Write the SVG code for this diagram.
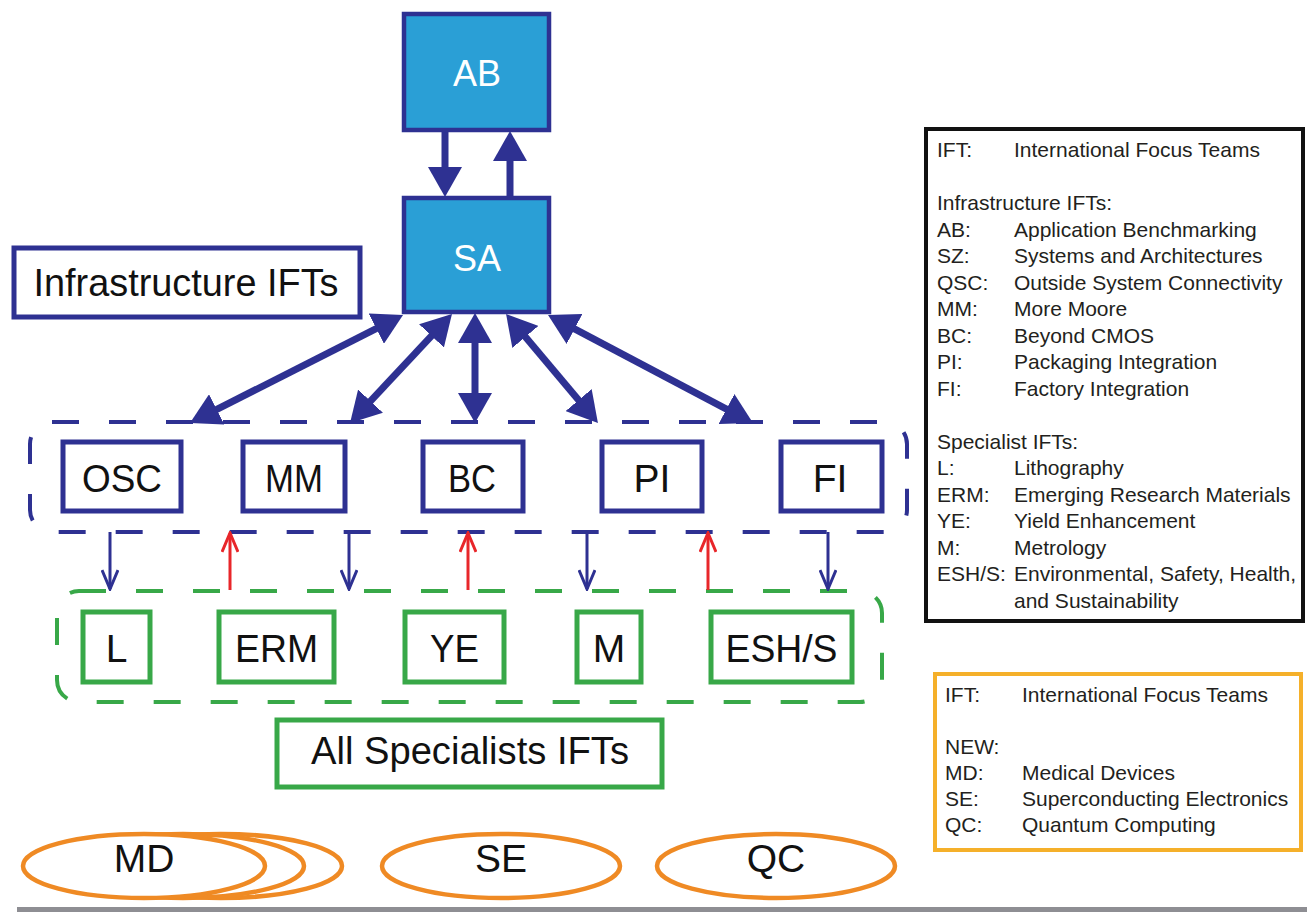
<svg xmlns="http://www.w3.org/2000/svg" width="1307" height="912" viewBox="0 0 1307 912">
<style>
text{font-family:"Liberation Sans",Arial,Helvetica,sans-serif;}
.lbl{font-size:39px;fill:#111;text-anchor:middle;}
.wlbl{font-size:36px;fill:#fff;text-anchor:middle;}
.blue{fill:#fff;stroke:#2e3192;stroke-width:5;}
.green{fill:#fff;stroke:#38a848;stroke-width:5;}
.top{fill:#2a9fd6;stroke:#2e3192;stroke-width:4.5;}
.ell{fill:#fff;stroke:#ef8a24;stroke-width:4.5;}
.thick{stroke:#2e3192;stroke-width:7;fill:none;marker-end:url(#bigHead);}
.dbl{stroke:#2e3192;stroke-width:7;fill:none;marker-start:url(#bigHead);marker-end:url(#bigHead);}
.thinB{stroke:#2e3192;stroke-width:3;fill:none;marker-end:url(#vBlue);}
.thinR{stroke:#e8262a;stroke-width:3;fill:none;marker-end:url(#vRed);}
.leg{font-size:21px;fill:#231f20;}
</style>
<defs>
<marker id="bigHead" markerUnits="userSpaceOnUse" viewBox="0 0 30 34" markerWidth="30" markerHeight="34" refX="22" refY="17" orient="auto-start-reverse">
<path d="M0,0 L30,17 L0,34 z" fill="#2e3192"/>
</marker>
<marker id="vBlue" markerUnits="userSpaceOnUse" viewBox="0 0 22 18" markerWidth="22" markerHeight="18" refX="20" refY="9" orient="auto">
<path d="M1,1 L20,9 L1,17" fill="none" stroke="#2e3192" stroke-width="3"/>
</marker>
<marker id="vRed" markerUnits="userSpaceOnUse" viewBox="0 0 22 18" markerWidth="22" markerHeight="18" refX="20" refY="9" orient="auto">
<path d="M1,1 L20,9 L1,17" fill="none" stroke="#e8262a" stroke-width="3"/>
</marker>
</defs>
<rect width="1307" height="912" fill="#fff"/>

<g id="infra-container">
<rect x="30" y="422" width="877" height="110" rx="22" fill="none" stroke="#2e3192" stroke-width="4" stroke-dasharray="27 30"/>
</g>
<g id="specialist-container">
<rect x="57" y="591" width="825" height="111" rx="22" fill="none" stroke="#38a848" stroke-width="4" stroke-dasharray="27 30"/>
</g>

<g id="connectors">
<line class="thick" x1="445" y1="131" x2="445" y2="189"/>
<line class="thick" x1="510" y1="198" x2="510" y2="139"/>
<line class="dbl" x1="395.9" y1="318.6" x2="197.1" y2="419.4"/>
<line class="dbl" x1="446.5" y1="319.8" x2="355.5" y2="417.2"/>
<line class="dbl" x1="475" y1="321" x2="475" y2="415"/>
<line class="dbl" x1="511.2" y1="320.1" x2="592.8" y2="416.9"/>
<line class="dbl" x1="555.1" y1="318.7" x2="745.9" y2="419.3"/>
<line class="thinB" x1="110" y1="532" x2="110" y2="589"/>
<line class="thinB" x1="349" y1="532" x2="349" y2="589"/>
<line class="thinB" x1="587" y1="532" x2="587" y2="589"/>
<line class="thinB" x1="828" y1="532" x2="828" y2="589"/>
<line class="thinR" x1="230" y1="590" x2="230" y2="533"/>
<line class="thinR" x1="468" y1="590" x2="468" y2="533"/>
<line class="thinR" x1="708" y1="590" x2="708" y2="533"/>
</g>

<g id="node-AB"><rect class="top" x="404" y="14" width="145" height="116"/><text class="wlbl" x="477" y="86">AB</text></g>
<g id="node-SA"><rect class="top" x="404" y="198" width="145" height="114"/><text class="wlbl" x="477" y="271">SA</text></g>

<g id="label-infra"><rect class="blue" x="14" y="248" width="346" height="69" stroke-width="4"/><text class="lbl" x="186" y="296" font-size="40" textLength="305" lengthAdjust="spacingAndGlyphs">Infrastructure IFTs</text></g>

<g id="node-OSC"><rect class="blue" x="63" y="442" width="118" height="69"/><text class="lbl" x="122" y="492" textLength="80" lengthAdjust="spacingAndGlyphs">OSC</text></g>
<g id="node-MM"><rect class="blue" x="243" y="442" width="102" height="69"/><text class="lbl" x="294" y="492" textLength="58" lengthAdjust="spacingAndGlyphs">MM</text></g>
<g id="node-BC"><rect class="blue" x="423" y="442" width="100" height="69"/><text class="lbl" x="472" y="492" textLength="48" lengthAdjust="spacingAndGlyphs">BC</text></g>
<g id="node-PI"><rect class="blue" x="602" y="442" width="100" height="69"/><text class="lbl" x="652" y="492">PI</text></g>
<g id="node-FI"><rect class="blue" x="781" y="442" width="101" height="69"/><text class="lbl" x="830" y="492">FI</text></g>

<g id="node-L"><rect class="green" x="83" y="612" width="67" height="70"/><text class="lbl" x="116.5" y="662">L</text></g>
<g id="node-ERM"><rect class="green" x="219" y="612" width="115" height="70"/><text class="lbl" x="276.5" y="662" textLength="83" lengthAdjust="spacingAndGlyphs">ERM</text></g>
<g id="node-YE"><rect class="green" x="405" y="612" width="99" height="70"/><text class="lbl" x="454.5" y="662" textLength="49" lengthAdjust="spacingAndGlyphs">YE</text></g>
<g id="node-M"><rect class="green" x="577" y="612" width="64" height="70"/><text class="lbl" x="609" y="662">M</text></g>
<g id="node-ESHS"><rect class="green" x="711" y="612" width="141" height="70"/><text class="lbl" x="781.5" y="662" textLength="112" lengthAdjust="spacingAndGlyphs">ESH/S</text></g>

<g id="label-specialists"><rect class="green" x="277" y="720" width="385" height="67" stroke-width="4"/><text class="lbl" x="470" y="764" font-size="38" textLength="318" lengthAdjust="spacingAndGlyphs">All Specialists IFTs</text></g>

<g id="node-MD">
<ellipse class="ell" cx="221" cy="866" rx="121" ry="32"/>
<ellipse class="ell" cx="183" cy="866" rx="121" ry="32"/>
<ellipse class="ell" cx="144" cy="866" rx="121" ry="32"/>
<text class="lbl" x="144" y="872" font-size="36">MD</text>
</g>
<g id="node-SE"><ellipse class="ell" cx="501" cy="866" rx="119" ry="32"/><text class="lbl" x="501" y="872" font-size="36">SE</text></g>
<g id="node-QC"><ellipse class="ell" cx="776" cy="866" rx="119" ry="32"/><text class="lbl" x="776" y="872" font-size="36">QC</text></g>

<g id="legend-main">
<rect x="926" y="129" width="377" height="492" fill="#fff" stroke="#111" stroke-width="4"/>
<text class="leg" x="937" y="157">IFT:</text><text class="leg" x="1014" y="157">International Focus Teams</text>
<text class="leg" x="937" y="210">Infrastructure IFTs:</text>
<text class="leg" x="937" y="236.5">AB:</text><text class="leg" x="1014" y="236.5">Application Benchmarking</text>
<text class="leg" x="937" y="263">SZ:</text><text class="leg" x="1014" y="263">Systems and Architectures</text>
<text class="leg" x="937" y="289.5">QSC:</text><text class="leg" x="1014" y="289.5">Outside System Connectivity</text>
<text class="leg" x="937" y="316">MM:</text><text class="leg" x="1014" y="316">More Moore</text>
<text class="leg" x="937" y="342.5">BC:</text><text class="leg" x="1014" y="342.5">Beyond CMOS</text>
<text class="leg" x="937" y="369">PI:</text><text class="leg" x="1014" y="369">Packaging Integration</text>
<text class="leg" x="937" y="395.5">FI:</text><text class="leg" x="1014" y="395.5">Factory Integration</text>
<text class="leg" x="937" y="448.5">Specialist IFTs:</text>
<text class="leg" x="937" y="475">L:</text><text class="leg" x="1014" y="475">Lithography</text>
<text class="leg" x="937" y="501.5">ERM:</text><text class="leg" x="1014" y="501.5">Emerging Research Materials</text>
<text class="leg" x="937" y="528">YE:</text><text class="leg" x="1014" y="528">Yield Enhancement</text>
<text class="leg" x="937" y="554.5">M:</text><text class="leg" x="1014" y="554.5">Metrology</text>
<text class="leg" x="937" y="581">ESH/S:</text><text class="leg" x="1014" y="581">Environmental, Safety, Health,</text>
<text class="leg" x="1014" y="607.5">and Sustainability</text>
</g>

<g id="legend-new">
<rect x="935" y="674" width="366" height="176" fill="#fff" stroke="#f5b02a" stroke-width="4"/>
<text class="leg" x="945" y="702">IFT:</text><text class="leg" x="1022" y="702">International Focus Teams</text>
<text class="leg" x="945" y="754">NEW:</text>
<text class="leg" x="945" y="780">MD:</text><text class="leg" x="1022" y="780">Medical Devices</text>
<text class="leg" x="945" y="806">SE:</text><text class="leg" x="1022" y="806">Superconducting Electronics</text>
<text class="leg" x="945" y="832">QC:</text><text class="leg" x="1022" y="832">Quantum Computing</text>
</g>

<rect x="17" y="907" width="1290" height="5" fill="#8e8e93"/>
</svg>
